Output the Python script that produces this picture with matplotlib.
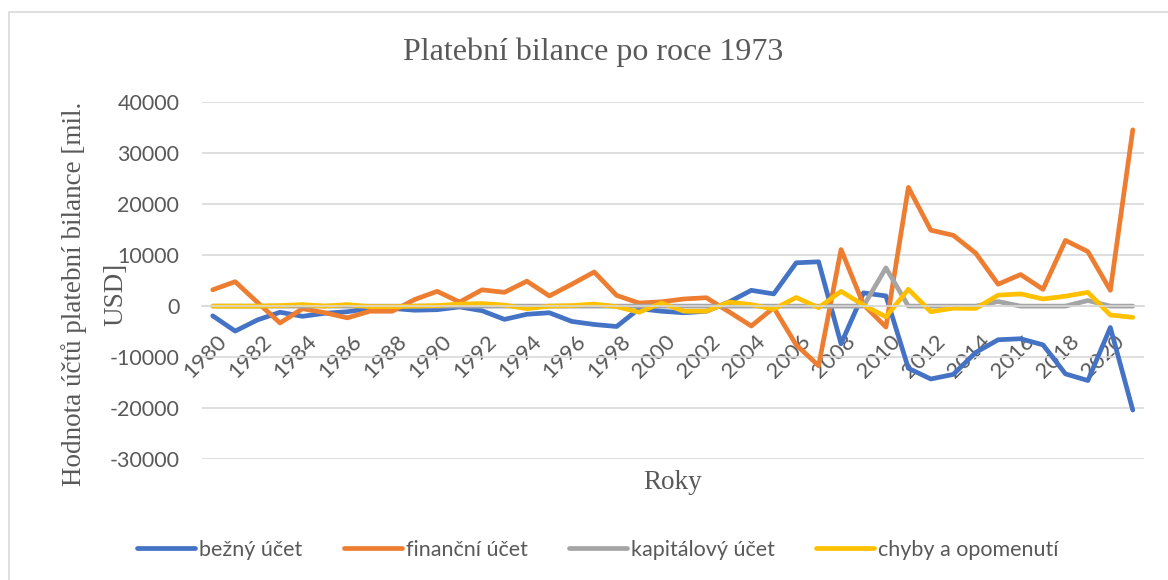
import matplotlib
matplotlib.use("Agg")
import matplotlib.pyplot as plt
from matplotlib.patches import Rectangle
from matplotlib.transforms import ScaledTranslation

# platebni bilance, mil. USD
years = list(range(1980, 2022))

bezny = [-1900, -4900, -2700, -1200, -2000, -1400, -1100, -450, -450, -800,
         -700, -150, -900, -2600, -1600, -1300, -3000, -3600, -4000, -500,
         -1000, -1300, -1000, 800, 3100, 2400, 8500, 8700, -7400, 2600,
         2000, -12200, -14300, -13400, -9100, -6600, -6400, -7600, -13300, -14600,
         -4200, -20400]

financni = [3200, 4800, 700, -3300, -500, -1300, -2300, -1000, -1000, 1300,
            2900, 800, 3200, 2700, 4900, 2000, 4300, 6700, 2100, 600,
            850, 1400, 1650, -1100, -3900, -300, -7600, -11700, 11100, 300,
            -4100, 23300, 14900, 13900, 10400, 4300, 6200, 3300, 12900, 10700,
            3100, 34600]

kapitalovy = [0, 0, 0, 0, 0, 0, 0, 0, 0, 0,
              0, 0, 0, 0, 0, 0, 0, 0, 0, 0,
              0, 0, 0, 0, 0, 0, 0, 0, 0, 0,
              7500, 0, 0, 0, 0, 900, 0, 0, 0, 1100,
              0, 0]

chyby = [0, 0, 0, 100, 300, 0, 300, -100, -100, 0,
         100, 400, 500, 200, -500, 0, 100, 400, -100, -1200,
         600, -1000, -1000, 800, 300, -600, 1700, -300, 2900, 200,
         -2100, 3300, -1100, -400, -450, 2150, 2400, 1400, 1950, 2700,
         -1750, -2200]

series = [
    ("bežný účet", bezny, "#4472C4"),
    ("finanční účet", financni, "#ED7D31"),
    ("kapitálový účet", kapitalovy, "#A5A5A5"),
    ("chyby a opomenutí", chyby, "#FFC000"),
]

yticks = [40000, 30000, 20000, 10000, 0, -10000, -20000, -30000]

textColor = "#595959"
gridColor = "#D9D9D9"
sansFont = "Lato"
serifFont = "Liberation Serif"

fig = plt.figure(figsize=(11.68, 5.8), dpi=100)
ax = fig.add_axes([201.5/1168, 1 - 459/580, 942.5/1168, 356.7/580])

# chart area frame
fig.patches.append(Rectangle((9/1168, -0.1), 1.2, 1.1 - 12/580, transform=fig.transFigure,
                             facecolor="none", edgecolor=gridColor, linewidth=1.2))

for name, values, color in series:
    ax.plot(years, values, color=color, label=name, linewidth=3.4,
            solid_joinstyle="round", solid_capstyle="round")

ax.set_xlim(years[0] - 0.5, years[-1] + 0.5)
ax.set_ylim(-30000, 40000)
ax.set_yticks(yticks)
ax.set_yticklabels([str(v) for v in yticks], fontfamily=sansFont, fontsize=15.5, color=textColor)

ax.grid(axis="y", color=gridColor, linewidth=1.2)
ax.set_axisbelow(True)
for side in ["top", "right", "left"]:
    ax.spines[side].set_visible(False)
ax.spines["bottom"].set_position(("data", 0))
ax.spines["bottom"].set_color(gridColor)
ax.spines["bottom"].set_linewidth(1.2)

ax.tick_params(axis="y", length=0, pad=16)
ax.tick_params(axis="x", length=0, pad=18)

ax.set_xticks(years[::2])
ax.set_xticklabels([str(y) for y in years[::2]], fontfamily=sansFont, fontsize=16,
                   color=textColor, rotation=45, ha="right", va="top", rotation_mode="anchor")
shift = ScaledTranslation(4/100, 0, fig.dpi_scale_trans)
for label in ax.get_xticklabels():
    label.set_transform(label.get_transform() + shift)

# y axis title, wrapped onto two lines
ax.text(-0.1353, 0.4626, "Hodnota účtů platební bilance [mil.", transform=ax.transAxes,
        fontfamily=serifFont, fontsize=19.5, color=textColor, rotation=90,
        ha="center", va="center")
ax.text(-0.0907, 0.4626, "USD]", transform=ax.transAxes,
        fontfamily=serifFont, fontsize=19.5, color=textColor, rotation=90,
        ha="center", va="center")

ax.set_xlabel("Roky", fontfamily=serifFont, fontsize=19.5, color=textColor, va="center")
ax.xaxis.set_label_coords(0.5, -0.0645)

fig.text(593/1168, 1 - 52/580, "Platební bilance po roce 1973", fontfamily=serifFont,
         fontsize=23, color=textColor, ha="center", va="center")

leg = fig.legend(loc="center", bbox_to_anchor=(598/1168, 1 - 550/580), ncol=4, frameon=False,
                 handlelength=2.7, handletextpad=0.2, columnspacing=1.9,
                 prop={"family": sansFont, "size": 15.5})
for text in leg.get_texts():
    text.set_color(textColor)

fig.savefig("out.png", dpi=100)
